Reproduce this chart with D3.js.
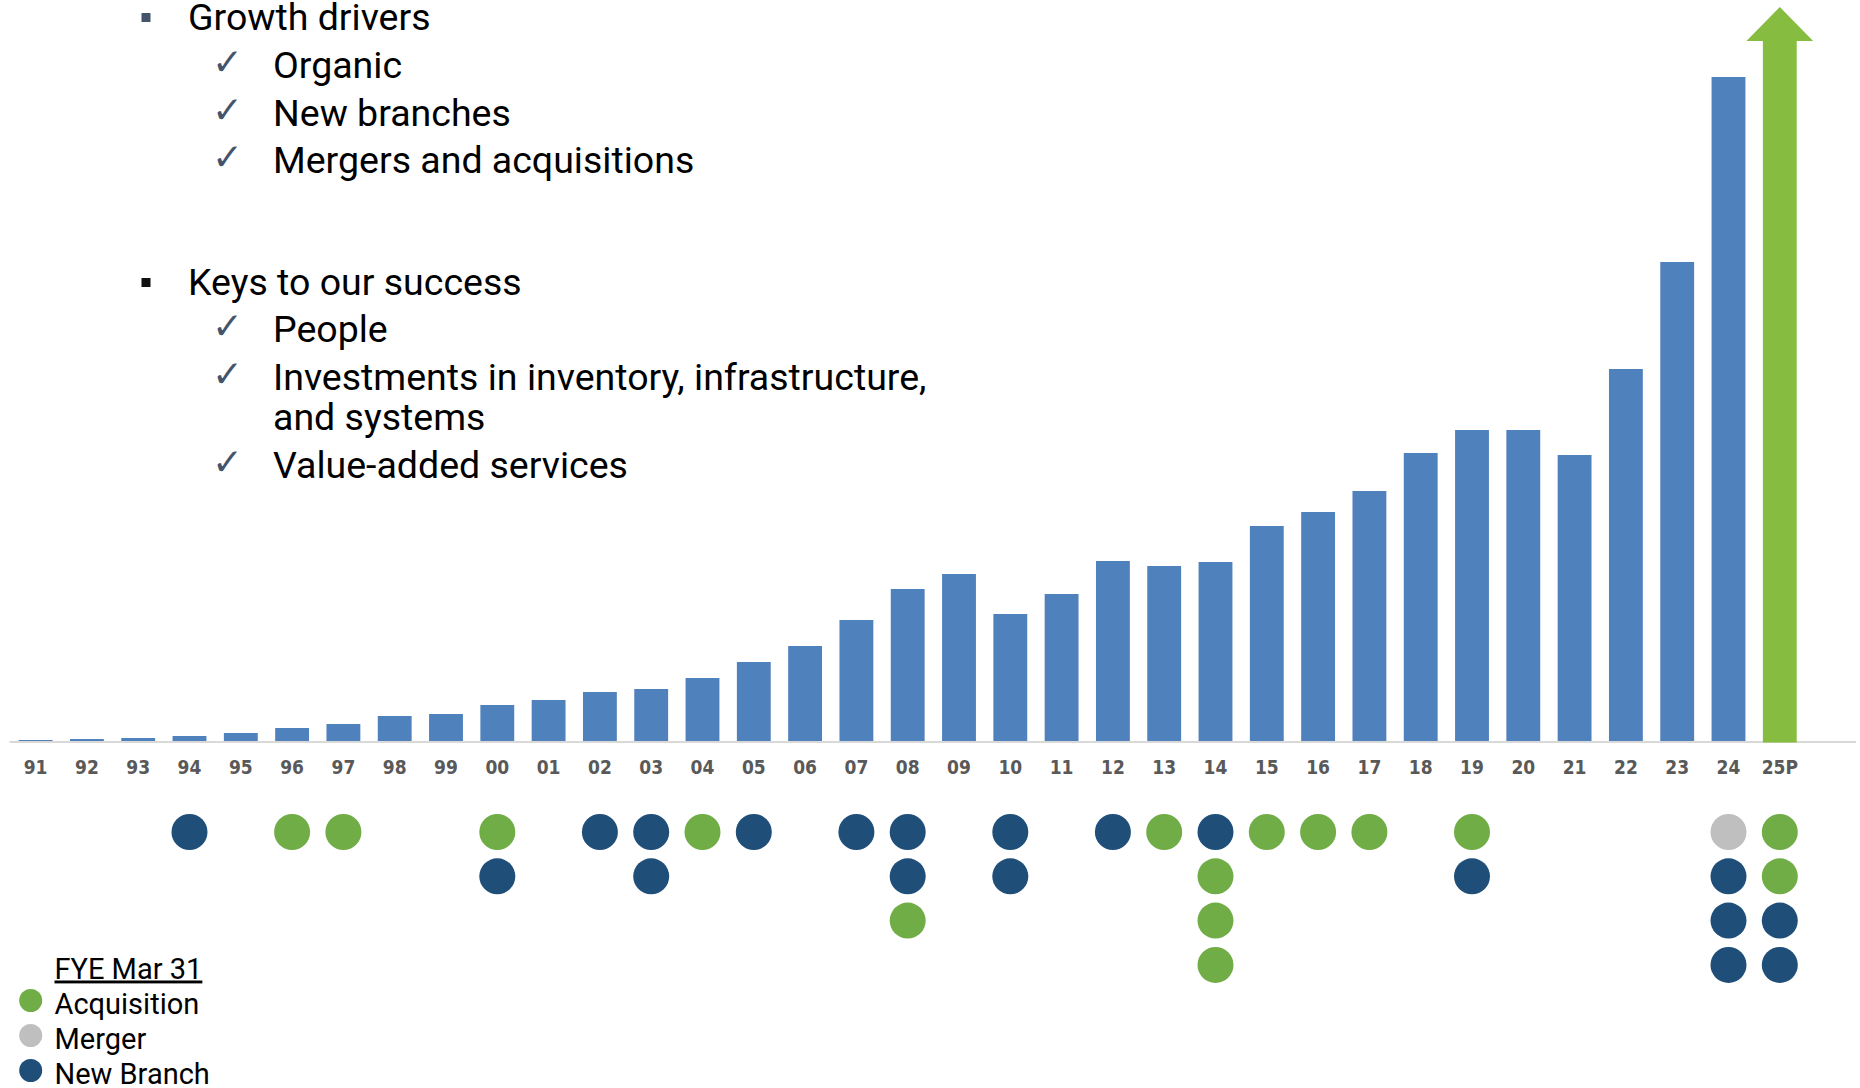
<!DOCTYPE html>
<html><head><meta charset="utf-8">
<script src="https://cdn.jsdelivr.net/npm/d3@7"></script>
<style>
html,body{margin:0;padding:0;background:#fff;}
svg{display:block;}
</style></head><body>
<svg id="chart" width="1860" height="1088"></svg>
<script>
// ---------- DATA ----------
const years = ["91","92","93","94","95","96","97","98","99","00","01","02","03","04","05","06","07","08","09","10","11","12","13","14","15","16","17","18","19","20","21","22","23","24","25P"];
const sales = [1,2,3,5,8,13,17,25,27,36,41,49,52,63,79,95,121,152,167,127,147,180,175,179,215,229,250,288,311,311,286,372,479,664,734];
const projectedYear = "25P";

const eventYears = ["94","96","97","00","02","03","04","05","07","08","10","12","13","14","15","16","17","19","24","25P"];
const eventTypes = [["N"],["A"],["A"],["A","N"],["N"],["N","N"],["A"],["N"],["N"],["N","N","A"],["N","N"],["N"],["A"],["N","A","A","A"],["A"],["A"],["A"],["A","N"],["M","N","N","N"],["A","A","N","N"]];

const legendTitle = "FYE Mar 31";
const legendKeys = ["A","M","N"];
const legendLabels = ["Acquisition","Merger","New Branch"];

const heading1 = "Growth drivers";
const growthItems = [["Organic"],["New branches"],["Mergers and acquisitions"]];
const heading2 = "Keys to our success";
const keyItems = [["People"],["Investments in inventory, infrastructure,","and systems"],["Value-added services"]];

// ---------- STYLE ----------
const barColor = "#4F81BD";
const arrowColor = "#86BC40";
const typeColor = {A:"#70AD47", M:"#BFBFBF", N:"#1F4E79"};
const baseY = 741;

const svg = d3.select("#chart");

// ---------- SCALES ----------
const x = d3.scaleBand().domain(years).range([9.95, 1805.45]).paddingInner(0.34).paddingOuter(0.17);
const y = d3.scaleLinear().domain([0, 664]).range([baseY, 77]);
const bw = x.bandwidth();

// axis line
svg.append("line").attr("x1", 9.5).attr("x2", 1856).attr("y1", baseY + 1).attr("y2", baseY + 1)
  .attr("stroke", "#D9D9D9").attr("stroke-width", 2);

// bars
const barData = years.map((yr, i) => ({yr, v: sales[i]}));
svg.append("g").selectAll("rect").data(barData.filter(d => d.yr !== projectedYear)).join("rect")
  .attr("x", d => x(d.yr)).attr("width", bw)
  .attr("y", d => y(d.v)).attr("height", d => baseY - y(d.v))
  .attr("fill", barColor);

// projected arrow
const pd = barData.find(d => d.yr === projectedYear);
const headH = 34, headW = bw * 1.97;
const ax0 = x(pd.yr), ax1 = ax0 + bw, acx = ax0 + bw / 2, tip = y(pd.v);
svg.append("path")
  .attr("d", `M${ax0},${baseY + 1.5} L${ax0},${tip + headH} L${acx - headW/2},${tip + headH} L${acx},${tip} L${acx + headW/2},${tip + headH} L${ax1},${tip + headH} L${ax1},${baseY + 1.5} Z`)
  .attr("fill", arrowColor);

// x axis labels
const axis = svg.append("g").attr("transform", `translate(0,${baseY})`)
  .call(d3.axisBottom(x).tickSize(0));
axis.select(".domain").remove();
axis.selectAll("text")
  .attr("y", 33).attr("dy", 0)
  .attr("fill", "#595959")
  .style("font-family", "'Liberation Sans Narrow','Arial Narrow','DejaVu Sans Condensed',sans-serif")
  .style("font-weight", "bold")
  .style("font-size", "19px");

// event dots
const rowY0 = 832, rowStep = 44.3, dotR = 18;
const dots = [];
eventYears.forEach((yr, i) => eventTypes[i].forEach((t, r) => dots.push({yr, t, r})));
svg.append("g").selectAll("circle").data(dots).join("circle")
  .attr("cx", d => x(d.yr) + bw / 2)
  .attr("cy", d => rowY0 + d.r * rowStep)
  .attr("r", dotR)
  .attr("fill", d => typeColor[d.t]);

// legend
const lg = svg.append("g").style("font-family", "Roboto, sans-serif").style("font-size", "29px");
lg.append("text").attr("x", 54.5).attr("y", 978.5).text(legendTitle)
  .attr("fill", "#000").style("text-decoration", "underline");
legendKeys.forEach((k, i) => {
  const by = 1013.5 + i * 35;
  lg.append("circle").attr("cx", 30.7).attr("cy", by - 13).attr("r", 11.5).attr("fill", typeColor[k]);
  lg.append("text").attr("x", 54.5).attr("y", by).attr("fill", "#000").text(legendLabels[i]);
});

// bullet text
const tg = svg.append("g").style("font-family", "Roboto, sans-serif").style("font-size", "37.5px").attr("fill", "#000");
function heading(text, base, col) {
  tg.append("rect").attr("x", 141.5).attr("y", base - 16.5).attr("width", 9).attr("height", 9).attr("fill", col);
  tg.append("text").attr("x", 188).attr("y", base).text(text);
}
function items(list, base0, paraStep, lineStep) {
  let b = base0;
  list.forEach(lines => {
    tg.append("text").attr("x", 212).attr("y", b - 3)
      .style("font-family", "'DejaVu Sans', sans-serif").style("font-size", "37px")
      .attr("fill", "#44546A").text("\u2713");
    lines.forEach((ln, j) => {
      tg.append("text").attr("x", 273).attr("y", b + j * lineStep).text(ln);
    });
    b += (lines.length - 1) * lineStep + paraStep;
  });
}
heading(heading1, 29.5, "#44546A");
items(growthItems, 78, 47.7, 40.5);
heading(heading2, 294.5, "#111");
items(keyItems, 342, 47.7, 40.5);
</script>
</body></html>
